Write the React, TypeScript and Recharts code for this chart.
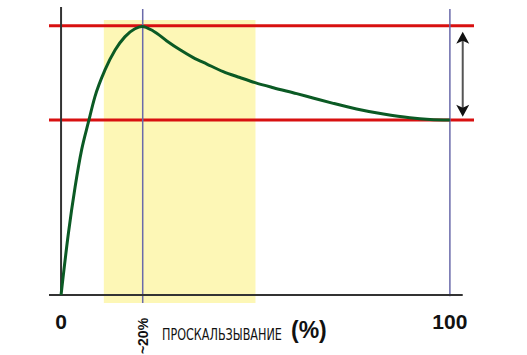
import { LineChart, Line, XAxis, YAxis, ReferenceLine, ReferenceArea, Label } from 'recharts'

// slip (%) vs. relative friction
const slip = [0, 1.9, 3.6, 5.3, 7.0, 8.7, 11.3, 13.9, 16.4, 19.0, 20.8, 23.7, 27.2, 30.6, 34.0, 37.5, 41.7, 46.0, 49.9, 54.6, 60.6, 65, 70, 76, 82.9, 89.7, 94.9, 100]
const friction = [0, 23, 40, 54, 64, 73.6, 83.6, 91, 95.9, 98.9, 99.8, 98.1, 94.4, 91.1, 88.2, 85.8, 83.0, 80.8, 78.9, 77.0, 74.8, 73.1, 71.2, 69.1, 67.2, 65.8, 65.2, 65]

const tickValues = [0, 21, 100]
const tickLabels = ['0', '~20%', '100']

const peakLevel = 100
const endLevel = 65
const bandFrom = 11
const bandTo = 50
const axisTitle = 'ПРОСКАЛЬЗЫВАНИЕ'

const data = slip.map((s, i) => ({ slip: s, friction: friction[i] }))

const RED = '#d81010'
const BLUE = '#6a6aaa'
const AXIS = '#333'

function Tick(props: any) {
  const { x, y, payload } = props
  const idx = tickValues.indexOf(payload.value)
  const label = tickLabels[idx]
  if (payload.value === 21) {
    return (
      <text
        x={x + 5}
        y={y + 25}
        transform={`rotate(-90 ${x + 5} ${y + 25})`}
        textAnchor="middle"
        fontFamily="Liberation Sans, Arial, sans-serif"
        fontWeight="bold"
        fontSize={14}
        fill="#111"
      >
        {label}
      </text>
    )
  }
  return (
    <text
      x={x}
      y={y + 18}
      textAnchor="middle"
      fontFamily="Liberation Sans, Arial, sans-serif"
      fontWeight="bold"
      fontSize={21}
      fill="#111"
    >
      {label}
    </text>
  )
}

function Title(props: any) {
  const { viewBox } = props
  const y = viewBox.y
  return (
    <g fill="#111">
      <text
        transform={`translate(162 ${y + 37}) scale(0.78 1)`}
        fontFamily="DejaVu Sans Condensed, DejaVu Sans, sans-serif"
        fontSize={16}
      >
        {axisTitle}
      </text>
      <text x={291} y={y + 35} fontFamily="Liberation Sans, Arial, sans-serif" fontWeight="bold" fontSize={23}>
        (%)
      </text>
    </g>
  )
}

function DoubleArrow(props: any) {
  const { x1, y1, x2, y2 } = props
  const top = Math.min(y1, y2)
  const bottom = Math.max(y1, y2)
  const x = x1
  return (
    <g>
      <line x1={x} y1={top + 6} x2={x2} y2={bottom - 6} stroke="#555" strokeWidth={2} />
      <polygon points={`${x},${top} ${x - 6.5},${top + 12} ${x},${top + 9} ${x + 6.5},${top + 12}`} fill="#111" />
      <polygon points={`${x},${bottom} ${x - 6.5},${bottom - 12} ${x},${bottom - 9} ${x + 6.5},${bottom - 12}`} fill="#111" />
    </g>
  )
}

export default function App() {
  return (
    <div style={{ position: 'absolute', left: 0, top: 0, background: '#fff' }}>
      <LineChart width={527} height={355} data={data} margin={{ top: 7, right: 53, bottom: 0, left: 49 }}>
        <XAxis
          dataKey="slip"
          type="number"
          domain={[-3.1, 106.2]}
          allowDataOverflow
          ticks={tickValues}
          tick={<Tick />}
          axisLine={false}
          tickLine={false}
          height={52}
          interval={0}
        >
          <Label content={<Title />} />
        </XAxis>
        <YAxis hide type="number" domain={[-3, 107]} allowDataOverflow />
        <ReferenceArea x1={bandFrom} x2={bandTo} y1={-3} y2={102.2} fill="#fdf7b6" fillOpacity={1} stroke="none" />
        <ReferenceLine segment={[{ x: -3.1, y: peakLevel }, { x: 106.2, y: peakLevel }]} stroke={RED} strokeWidth={3} />
        <ReferenceLine segment={[{ x: -3.1, y: endLevel }, { x: 106.2, y: endLevel }]} stroke={RED} strokeWidth={3} />
        <ReferenceLine segment={[{ x: 21, y: -3 }, { x: 21, y: 106.3 }]} stroke={BLUE} strokeWidth={1.5} />
        <ReferenceLine segment={[{ x: 100, y: -0.5 }, { x: 100, y: 106.3 }]} stroke={BLUE} strokeWidth={1.5} />
        <ReferenceLine segment={[{ x: 0, y: 0 }, { x: 0, y: 107 }]} stroke={AXIS} strokeWidth={2} />
        <ReferenceLine segment={[{ x: -3.1, y: 0 }, { x: 103.3, y: 0 }]} stroke={AXIS} strokeWidth={2} />
        <ReferenceLine
          segment={[{ x: 103.3, y: 97.8 }, { x: 103.3, y: 66.2 }]}
          shape={(p: any) => <DoubleArrow {...p} />}
        />
        <Line
          type="monotone"
          dataKey="friction"
          stroke="#0b5a24"
          strokeWidth={3}
          dot={false}
          activeDot={false}
          isAnimationActive={false}
        />
      </LineChart>
    </div>
  )
}
